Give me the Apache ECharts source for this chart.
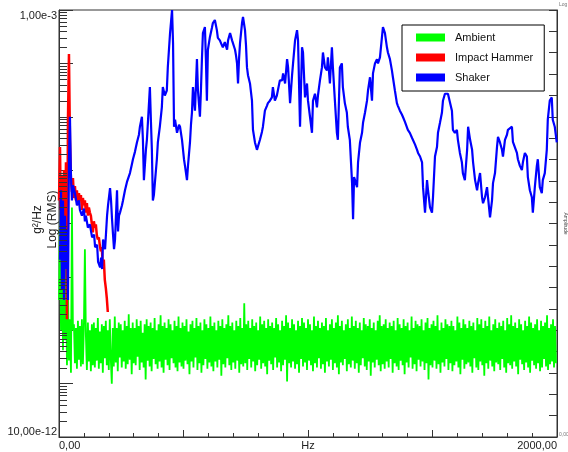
<!DOCTYPE html>
<html>
<head>
<meta charset="utf-8">
<script src="https://cdn.jsdelivr.net/npm/echarts@6/dist/echarts.min.js"></script>
<style>
  html, body { margin: 0; padding: 0; background: #ffffff; }
  #chart { width: 568px; height: 452px; }
</style>
</head>
<body>
<div id="chart"></div>
<script>
// Frequency axis (Hz) and level axis (g^2/Hz, log scale)
const freqMin = 0;
const freqMax = 2000;
const levelMin = 1e-11;
const levelMax = 1e-3;

// Tick labels
const xTickLabels = { 0: '0,00', 1000: 'Hz', 2000: '2000,00' };
const yTickLabels = { max: '1,00e-3', min: '10,00e-12' };

// Minor log ticks (2..9 within each decade)
const decadeExponents = [-11, -10, -9, -8, -7, -6, -5, -4];
const minorMantissas = [2, 3, 4, 5, 6, 7, 8, 9];

// Ambient measurement, 4 Hz bins starting at 0 Hz
const ambientBinHz = 4;
const ambientLevel = [
  3.7e-9,1.8e-7,1.0e-9,1.2e-7,4.2e-10,5.0e-8,6.5e-10,2.1e-8,2.2e-10,5.7e-9,
  2.7e-10,1.6e-9,1.6e-10,2.0e-7,1.0e-9,
  1.3e-9,2.4e-10,1.1e-9,1.9e-10,1.5e-9,2.8e-10,1.2e-9,2.1e-10,1.6e-9,2.3e-10,
  1.2e-9,3.3e-8,8.0e-10,1.8e-10,1.4e-9,2.6e-10,1.0e-9,1.7e-10,1.3e-9,2.2e-10,
  1.4e-9,2.0e-10,1.1e-9,2.7e-10,1.7e-9,1.9e-10,9.5e-10,2.4e-10,1.3e-9,1.6e-10,
  1.2e-9,3.0e-10,1.5e-9,2.2e-10,1.0e-9,1.8e-10,1.6e-9,2.9e-10,1.0e-10,1.1e-9,
  2.1e-10,1.8e-9,2.5e-10,1.1e-9,1.7e-10,1.4e-9,3.1e-10,1.3e-9,2.0e-10,1.0e-9,
  2.6e-10,1.5e-9,1.9e-10,1.2e-9,2.3e-10,2.0e-9,2.8e-10,1.1e-9,1.5e-10,1.4e-9,
  2.4e-10,1.1e-9,2.2e-10,1.6e-9,3.2e-10,1.2e-9,1.8e-10,1.5e-9,2.5e-10,9.0e-10,
  2.0e-10,1.3e-9,1.2e-10,1.6e-9,2.7e-10,1.2e-9,2.1e-10,1.4e-9,1.7e-10,1.1e-9,
  2.9e-10,1.7e-9,2.3e-10,1.0e-9,1.9e-10,1.3e-9,2.6e-10,1.9e-9,2.0e-10,1.2e-9,
  1.6e-10,1.4e-9,2.8e-10,1.1e-9,2.2e-10,1.6e-9,1.8e-10,1.3e-9,3.0e-10,1.0e-9,
  2.4e-10,1.5e-9,2.0e-10,1.2e-9,1.7e-10,1.8e-9,2.5e-10,1.1e-9,2.1e-10,1.4e-9,
  1.9e-10,1.2e-9,2.7e-10,1.6e-9,2.3e-10,9.5e-10,1.5e-10,1.3e-9,2.6e-10,1.5e-9,
  2.0e-10,1.1e-9,3.1e-10,1.7e-9,1.8e-10,1.2e-9,2.4e-10,1.4e-9,1.6e-10,1.0e-9,
  2.2e-10,1.6e-9,2.9e-10,1.3e-9,1.9e-10,1.1e-9,2.5e-10,1.8e-9,2.1e-10,1.2e-9,
  1.7e-10,1.4e-9,2.6e-10,1.0e-9,2.0e-10,1.5e-9,2.8e-10,1.2e-9,1.4e-10,1.6e-9,
  2.3e-10,1.1e-9,2.0e-10,1.3e-9,3.0e-10,1.9e-9,2.2e-10,1.2e-9,1.8e-10,1.4e-9,
  2.5e-10,1.0e-9,1.9e-10,1.5e-9,2.7e-10,1.2e-9,1.6e-10,1.7e-9,2.3e-10,1.1e-9,
  2.1e-10,3.2e-9,2.4e-10,1.3e-9,1.8e-10,1.5e-9,2.9e-10,1.1e-9,2.0e-10,1.6e-9,
  2.6e-10,1.2e-9,1.7e-10,1.4e-9,2.2e-10,1.0e-9,2.8e-10,1.8e-9,1.9e-10,1.3e-9,
  2.4e-10,1.5e-9,2.1e-10,1.1e-9,1.5e-10,1.6e-9,2.7e-10,1.2e-9,2.3e-10,1.4e-9,
  1.8e-10,1.1e-9,3.1e-10,1.7e-9,2.0e-10,1.3e-9,2.5e-10,1.0e-9,1.7e-10,1.5e-9,
  2.2e-10,1.2e-9,2.8e-10,1.9e-9,1.1e-10,1.4e-9,2.4e-10,1.1e-9,2.0e-10,1.6e-9,
  2.6e-10,1.3e-9,1.9e-10,1.0e-9,2.3e-10,1.5e-9,1.6e-10,1.2e-9,2.9e-10,1.7e-9,
  2.1e-10,1.4e-9,2.5e-10,1.1e-9,1.8e-10,1.6e-9,2.7e-10,1.3e-9,2.2e-10,1.0e-9,
  1.7e-10,1.8e-9,2.4e-10,1.2e-9,2.0e-10,1.5e-9,3.0e-10,1.1e-9,1.9e-10,1.4e-9,
  2.3e-10,1.2e-9,1.6e-10,1.7e-9,2.6e-10,1.0e-9,2.1e-10,1.3e-9,2.8e-10,1.6e-9,
  1.8e-10,1.1e-9,2.4e-10,1.4e-9,2.0e-10,1.9e-9,1.5e-10,1.2e-9,2.5e-10,1.5e-9,
  2.2e-10,1.0e-9,2.9e-10,1.3e-9,1.7e-10,1.6e-9,2.3e-10,1.1e-9,2.0e-10,1.8e-9,
  2.7e-10,1.2e-9,1.9e-10,1.5e-9,2.4e-10,1.1e-9,1.6e-10,1.4e-9,2.2e-10,1.0e-9,
  3.0e-10,1.7e-9,2.1e-10,1.3e-9,1.8e-10,1.2e-9,2.6e-10,1.6e-9,1.4e-10,1.1e-9,
  2.5e-10,1.4e-9,2.0e-10,1.0e-9,2.8e-10,1.5e-9,2.2e-10,1.9e-9,1.7e-10,1.2e-9,
  2.3e-10,1.3e-9,1.9e-10,1.6e-9,2.6e-10,1.1e-9,2.0e-10,1.4e-9,2.9e-10,1.2e-9,
  1.6e-10,1.5e-9,2.4e-10,1.0e-9,2.1e-10,1.7e-9,1.8e-10,1.3e-9,2.7e-10,1.1e-9,
  2.2e-10,1.6e-9,1.5e-10,1.2e-9,2.5e-10,1.4e-9,2.0e-10,1.0e-9,3.1e-10,1.8e-9,
  1.9e-10,1.1e-9,2.3e-10,1.5e-9,1.7e-10,1.3e-9,2.8e-10,1.2e-9,2.1e-10,1.6e-9,
  2.6e-10,1.0e-9,1.8e-10,1.4e-9,2.4e-10,1.7e-9,1.2e-10,1.1e-9,2.2e-10,1.3e-9,
  2.0e-10,1.5e-9,2.7e-10,1.2e-9,1.9e-10,1.9e-9,2.3e-10,1.0e-9,1.6e-10,1.4e-9,
  2.5e-10,1.1e-9,2.1e-10,1.6e-9,2.9e-10,1.3e-9,1.8e-10,1.2e-9,2.4e-10,1.5e-9,
  1.7e-10,1.2e-9,2.2e-10,1.0e-9,2.6e-10,1.8e-9,2.0e-10,1.4e-9,1.5e-10,1.1e-9,
  2.8e-10,1.6e-9,1.9e-10,1.3e-9,2.3e-10,1.1e-9,2.5e-10,1.5e-9,2.1e-10,1.2e-9,
  1.6e-10,1.4e-9,3.0e-10,1.0e-9,2.0e-10,1.7e-9,1.8e-10,1.3e-9,2.6e-10,1.6e-9,
  2.2e-10,1.1e-9,1.4e-10,1.5e-9,2.4e-10,1.2e-9,1.9e-10,1.8e-9,2.7e-10,1.0e-9,
  2.1e-10,1.3e-9,1.7e-10,1.6e-9,2.5e-10,1.1e-9,2.3e-10,1.4e-9,1.8e-10,1.2e-9,
  2.9e-10,1.5e-9,2.0e-10,1.0e-9,1.6e-10,1.7e-9,2.4e-10,1.3e-9,2.2e-10,1.9e-9,
  1.9e-10,1.2e-9,2.6e-10,1.4e-9,2.1e-10,1.1e-9,1.5e-10,1.6e-9,2.8e-10,1.3e-9,
  2.3e-10,1.0e-9,1.8e-10,1.5e-9,2.5e-10,1.2e-9,2.0e-10,1.8e-9,1.6e-10,1.4e-9,
  2.7e-10,1.1e-9,2.2e-10,1.3e-9,1.9e-10,1.6e-9,2.4e-10,1.0e-9,1.7e-10,1.5e-9,
  2.0e-10,1.2e-9,2.9e-10,1.4e-9,2.1e-10,1.9e-9,1.8e-10,1.1e-9,2.3e-10,1.3e-9,
  2.6e-10,1.6e-9,2.0e-10,1.2e-9,2.4e-10
];

// Impact hammer measurement, 4 Hz bins starting at 0 Hz
const hammerBinHz = 4;
const hammerLevel = [
  2.7e-7,2.7e-6,7.7e-8,8.1e-7,2.1e-8,1.0e-6,5.0e-8,1.4e-6,1.6e-9,8.8e-6,
  1.5e-4,3.7e-6,6.5e-7,3.9e-7,7.1e-7,3.0e-7,5.0e-7,2.7e-7,4.2e-7,2.2e-7,
  3.7e-7,2.7e-7,3.4e-7,1.8e-7,3.0e-7,2.2e-7,2.7e-7,1.6e-7,2.4e-7,1.4e-7,
  2.0e-7,1.6e-7,1.4e-7,9.6e-8,6.8e-8,1.1e-7,8.4e-8,9.6e-8,6.0e-8,5.0e-8,
  5.5e-8,3.9e-8,3.0e-8,3.6e-8,1.6e-8,2.1e-8,8.8e-9,6.2e-9,4.0e-9,2.2e-9
];

// Shaker measurement, [Hz, level]
const shakerSpectrum = [
  [4,2.1e-8],[8,4.2e-7],[12,5.7e-9],[16,2.7e-7],[20,3.7e-9],[24,1.4e-7],[28,1.4e-8],[32,7.7e-8],
  [36,3.7e-9],[40,1.6e-6],[44,1.0e-5],[48,8.1e-7],[52,2.7e-7],[56,5.2e-7],[64,3.7e-7],[72,2.2e-7],
  [80,2.7e-7],[84,1.8e-7],[92,1.4e-7],[100,1.9e-7],[104,1.1e-7],[108,1.4e-7],[116,8.4e-8],[124,9.6e-8],
  [133,5.5e-8],[141,6.2e-8],[145,3.6e-8],[153,4.0e-8],[157,1.9e-8],[165,1.5e-8],[169,2.3e-8],[173,1.4e-8],
  [177,5.0e-8],[185,3.3e-8],[193,1.4e-7],[197,2.2e-7],[205,4.6e-7],[209,2.7e-7],[213,1.2e-7],[217,6.2e-8],
  [221,3.3e-8],[225,5.0e-8],[233,4.2e-7],[237,7.1e-8],[241,1.4e-7],[245,1.6e-7],[253,2.2e-7],[257,2.7e-7],
  [265,4.2e-7],[273,6.0e-7],[281,6.5e-7],[285,8.8e-7],[293,1.3e-6],[297,1.6e-6],[305,2.2e-6],[313,3.3e-6],
  [321,4.6e-6],[325,6.5e-6],[333,1.0e-5],[337,3.7e-6],[341,6.5e-7],[349,2.4e-6],[353,3.7e-6],[357,7.7e-6],
  [365,3.6e-5],[369,8.8e-6],[373,2.4e-6],[377,2.7e-7],[381,3.4e-7],[385,5.7e-7],[393,1.6e-6],[397,3.3e-6],
  [405,6.5e-6],[413,1.5e-5],[417,3.6e-5],[425,2.5e-5],[433,3.1e-5],[437,8.4e-5],[446,3.7e-4],[454,1.0e-3],
  [458,2.4e-4],[462,6.5e-6],[466,8.8e-6],[474,5.0e-6],[482,7.1e-6],[486,6.5e-6],[494,3.7e-6],[502,1.6e-6],
  [506,1.2e-6],[514,6.5e-7],[518,1.2e-6],[526,3.3e-6],[530,7.1e-6],[534,1.2e-5],[538,3.6e-5],[546,1.3e-5],
  [550,3.9e-5],[554,1.2e-4],[558,3.1e-5],[566,1.0e-5],[570,3.1e-5],[574,1.2e-4],[578,3.7e-4],[586,4.8e-4],
  [590,1.2e-4],[594,2.0e-5],[598,1.8e-4],[606,3.1e-4],[614,4.6e-4],[618,5.7e-4],[626,6.5e-4],[634,4.2e-4],
  [638,3.0e-4],[646,2.7e-4],[654,2.2e-4],[658,2.0e-4],[666,2.5e-4],[675,1.8e-4],[679,2.7e-4],[687,3.7e-4],
  [695,2.7e-4],[699,2.7e-4],[707,1.8e-4],[711,1.4e-4],[715,1.0e-4],[719,4.2e-5],[723,1.2e-4],[727,2.4e-4],
  [735,5.7e-4],[739,7.4e-4],[747,4.2e-4],[751,2.2e-4],[755,8.4e-5],[759,6.0e-5],[767,4.2e-5],[775,2.0e-5],
  [779,5.7e-6],[787,3.3e-6],[795,2.4e-6],[799,2.6e-6],[807,3.7e-6],[815,5.2e-6],[819,6.5e-6],[827,1.3e-5],
  [835,1.6e-5],[839,1.8e-5],[847,2.0e-5],[855,2.3e-5],[859,3.6e-5],[867,2.0e-5],[875,2.5e-5],[879,2.7e-5],
  [887,4.8e-5],[896,4.8e-5],[900,6.5e-5],[908,4.2e-5],[916,1.2e-4],[920,8.4e-5],[928,1.8e-5],[936,6.0e-5],
  [940,1.0e-4],[948,2.7e-4],[956,4.2e-4],[960,2.7e-4],[968,6.5e-6],[976,2.0e-4],[980,1.6e-4],[988,2.3e-5],
  [996,4.2e-5],[1000,2.0e-5],[1008,1.0e-5],[1016,5.0e-6],[1020,2.0e-5],[1028,2.7e-5],[1036,1.5e-5],[1040,2.5e-5],
  [1048,4.8e-5],[1056,8.4e-5],[1060,1.6e-4],[1068,8.4e-5],[1076,7.4e-5],[1080,1.3e-4],[1088,4.2e-5],[1096,2.0e-4],
  [1100,8.4e-5],[1108,2.0e-5],[1116,5.0e-6],[1120,3.7e-6],[1128,8.4e-5],[1136,1.0e-4],[1140,3.6e-5],[1148,1.8e-5],
  [1156,1.2e-5],[1160,6.5e-6],[1168,3.7e-6],[1177,5.7e-7],[1181,1.2e-7],[1185,7.4e-7],[1189,6.5e-7],[1197,4.8e-7],
  [1201,1.4e-6],[1209,3.3e-6],[1217,5.0e-6],[1221,7.7e-6],[1229,1.2e-5],[1237,2.0e-5],[1241,3.1e-5],[1249,5.5e-5],
  [1257,2.0e-5],[1261,6.5e-5],[1269,1.0e-4],[1277,1.2e-4],[1281,1.0e-4],[1289,1.3e-4],[1297,3.1e-4],[1301,4.8e-4],
  [1309,3.7e-4],[1317,2.0e-4],[1321,1.6e-4],[1329,1.2e-4],[1337,7.4e-5],[1341,5.5e-5],[1349,3.1e-5],[1357,1.8e-5],
  [1361,1.6e-5],[1369,1.3e-5],[1377,1.1e-5],[1381,1.0e-5],[1389,8.1e-6],[1397,7.7e-6],[1401,5.7e-6],[1409,5.0e-6],
  [1418,4.0e-6],[1422,3.7e-6],[1430,3.0e-6],[1438,2.4e-6],[1442,2.1e-6],[1450,1.8e-6],[1458,1.4e-6],[1462,4.8e-7],
  [1470,1.6e-7],[1478,6.5e-7],[1482,4.2e-7],[1490,2.0e-7],[1498,1.6e-7],[1502,3.1e-7],[1510,1.8e-6],[1518,2.7e-6],
  [1522,5.0e-6],[1530,7.7e-6],[1538,1.2e-5],[1542,2.0e-5],[1550,2.7e-5],[1558,2.9e-5],[1562,2.7e-5],[1570,2.5e-5],
  [1578,1.3e-5],[1582,5.7e-6],[1590,5.0e-6],[1598,5.7e-6],[1602,3.7e-6],[1610,2.1e-6],[1618,1.4e-6],[1622,8.8e-7],
  [1630,6.5e-7],[1639,2.4e-6],[1643,6.5e-6],[1651,3.7e-6],[1659,2.4e-6],[1663,1.4e-6],[1671,6.5e-7],[1679,4.2e-7],
  [1683,5.7e-7],[1691,8.8e-7],[1699,3.1e-7],[1703,2.4e-7],[1711,3.1e-7],[1719,4.8e-7],[1723,3.1e-7],[1731,1.3e-7],
  [1739,2.7e-7],[1743,5.7e-7],[1751,8.8e-7],[1759,2.7e-6],[1763,4.2e-6],[1771,3.3e-6],[1779,2.4e-6],[1783,1.8e-6],
  [1791,3.7e-6],[1799,4.6e-6],[1803,5.7e-6],[1811,5.7e-6],[1819,6.5e-6],[1823,3.4e-6],[1831,3.3e-6],[1839,2.1e-6],
  [1843,1.6e-6],[1851,1.2e-6],[1859,1.0e-6],[1863,1.4e-6],[1871,2.1e-6],[1879,1.8e-6],[1883,7.4e-7],[1891,4.2e-7],
  [1899,3.1e-7],[1903,1.6e-7],[1911,4.8e-7],[1919,1.2e-6],[1923,1.6e-6],[1931,4.8e-7],[1939,3.7e-7],[1943,6.5e-7],
  [1951,8.8e-7],[1959,2.4e-6],[1963,8.8e-6],[1971,2.0e-5],[1979,2.3e-5],[1983,8.8e-6],[1991,6.5e-6],[1999,3.3e-6]
];

const seriesNames = ['Ambient', 'Impact Hammer', 'Shaker'];
const seriesColors = ['#00ff00', '#ff0000', '#0000ff'];

const FONT = '"Liberation Sans", Arial, sans-serif';
const INK = '#333333';

const binned = (levels, step) => levels.map((v, i) => [i * step, v]);
const minorTickData = [];
decadeExponents.forEach(e => minorMantissas.forEach(m => minorTickData.push([freqMin, m * Math.pow(10, e)])));

const chart = echarts.init(document.getElementById('chart'), null, { renderer: 'canvas' });

chart.setOption({
  animation: false,
  backgroundColor: '#ffffff',
  textStyle: { fontFamily: FONT },
  grid: {
    left: 59, right: 11, top: 10, bottom: 15,
    outerBoundsMode: 'none', containLabel: false,
    show: true, borderColor: INK, borderWidth: 1, backgroundColor: '#ffffff'
  },
  legend: {
    data: seriesNames,
    orient: 'vertical',
    left: 402, top: 25,
    icon: 'rect',
    itemWidth: 29, itemHeight: 8, itemGap: 7,
    padding: [6, 11, 7, 14],
    backgroundColor: '#ffffff',
    borderColor: '#000000', borderWidth: 1,
    selectedMode: false,
    textStyle: { fontFamily: FONT, fontSize: 11, color: '#111111', lineHeight: 13, padding: [0, 0, 0, 5] }
  },
  xAxis: {
    type: 'value', min: freqMin, max: freqMax, interval: 500,
    axisLine: { show: true, lineStyle: { color: INK, width: 1 } },
    axisTick: { show: true, inside: true, length: 7, lineStyle: { color: INK } },
    minorTick: { show: true, splitNumber: 5, length: 4, lineStyle: { color: INK } },
    splitLine: { show: false },
    axisLabel: {
      margin: 3, fontSize: 11, color: '#222222', fontFamily: FONT,
      alignMinLabel: 'left', alignMaxLabel: 'right',
      formatter: v => (xTickLabels[v] !== undefined ? xTickLabels[v] : '')
    }
  },
  yAxis: [
    {
      type: 'log', logBase: 10, min: levelMin, max: levelMax,
      name: 'g\u00b2/Hz\nLog (RMS)',
      nameLocation: 'middle', nameRotate: 90, nameGap: -1,
      nameMoveOverlap: false,
      nameTextStyle: { fontSize: 12, color: '#222222', fontFamily: FONT, lineHeight: 15, padding: [0, 0, 0, 8] },
      axisLine: { show: true, lineStyle: { color: INK, width: 1 } },
      axisTick: { show: true, inside: true, length: 14, lineStyle: { color: INK } },
      splitLine: { show: false },
      axisLabel: {
        margin: 2, fontSize: 11, color: '#222222', fontFamily: FONT,
        verticalAlign: 'top',
        verticalAlignMinLabel: 'bottom', verticalAlignMaxLabel: 'top',
        formatter: v => {
          if (v >= levelMax * 0.99) return yTickLabels.max;
          if (v <= levelMin * 1.01) return yTickLabels.min;
          return '';
        }
      }
    },
    {
      type: 'value', position: 'right', min: 0, max: 20, interval: 1,
      name: 'Amplitude', nameLocation: 'middle', nameRotate: -90, nameGap: 6,
      nameTextStyle: { fontSize: 5, color: '#444444', fontFamily: FONT },
      axisLine: { show: true, lineStyle: { color: INK, width: 1 } },
      axisTick: { show: true, inside: true, length: 8, lineStyle: { color: INK } },
      axisLabel: { show: false },
      splitLine: { show: false }
    }
  ],
  graphic: [
    { type: 'text', left: 559, top: 2, style: { text: 'Log', fontSize: 5, fill: '#777777', fontFamily: FONT } },
    { type: 'text', left: 559, top: 432, style: { text: '0,00', fontSize: 5, fill: '#777777', fontFamily: FONT } }
  ],
  series: [
    {
      name: seriesNames[0], type: 'line', data: binned(ambientLevel, ambientBinHz),
      showSymbol: false, symbol: 'none', sampling: null,
      lineStyle: { color: seriesColors[0], width: 1.8 }, itemStyle: { color: seriesColors[0] }, z: 2
    },
    {
      name: seriesNames[1], type: 'line', data: binned(hammerLevel, hammerBinHz),
      showSymbol: false, symbol: 'none',
      lineStyle: { color: seriesColors[1], width: 2.5 }, itemStyle: { color: seriesColors[1] }, z: 3
    },
    {
      name: seriesNames[2], type: 'line', data: shakerSpectrum,
      showSymbol: false, symbol: 'none',
      lineStyle: { color: seriesColors[2], width: 2.2 }, itemStyle: { color: seriesColors[2] }, z: 4
    },
    {
      // minor ticks of the log level axis
      type: 'custom', silent: true, clip: false, z: 10,
      data: minorTickData,
      renderItem: (params, api) => {
        const p = api.coord([api.value(0), api.value(1)]);
        const y = Math.round(p[1]) + 0.5;
        return {
          type: 'line',
          shape: { x1: p[0], y1: y, x2: p[0] + 8, y2: y },
          style: { stroke: INK, lineWidth: 1 }
        };
      }
    }
  ]
});
</script>
</body>
</html>
